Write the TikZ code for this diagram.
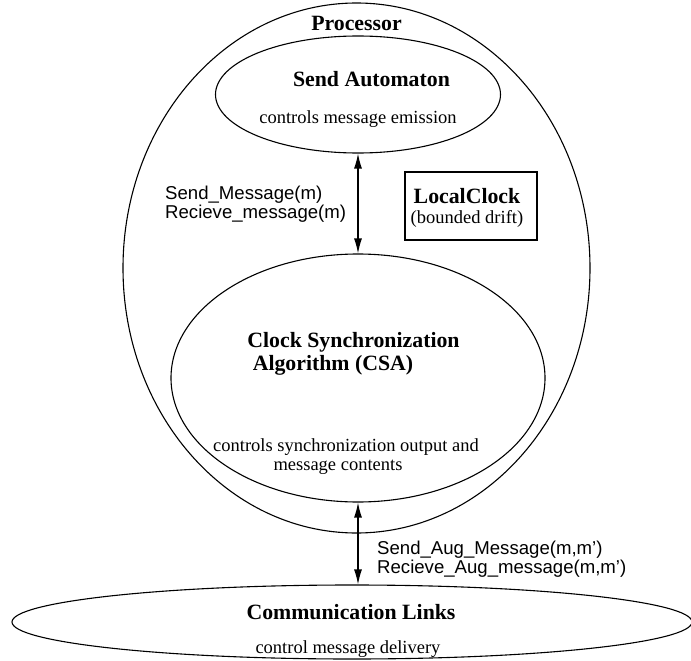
\documentclass[tikz,border=0pt]{standalone}
\usepackage{fontspec}
\setmainfont{Liberation Serif}
\newfontfamily\lsans{Liberation Sans}
\usetikzlibrary{shapes.geometric,arrows.meta}
\tikzset{
  shape line/.style={draw, line width=1.1pt},
  oval/.style={shape line, ellipse, inner sep=0pt},
  title/.style={font=\bfseries\fontsize{21.8}{24}\selectfont, anchor=base, inner sep=0pt},
  desc/.style={font=\fontsize{18.5}{21}\selectfont, anchor=base, inner sep=0pt},
  lbl/.style={font=\lsans\fontsize{18.6}{16.5}\selectfont, anchor=base west, inner sep=0pt, align=left},
  link/.style={line width=1.2pt, {Latex[length=15pt,width=8pt]}-{Latex[length=15pt,width=8pt]}}
}
\begin{document}
\begin{tikzpicture}[x=1pt,y=-1pt]
\useasboundingbox (0,0) rectangle (691,661);
% ellipses
\node[oval, minimum width=467pt, minimum height=530pt] (proc) at (356.5,268) {};
\node[oval, minimum width=285pt, minimum height=117pt] (sa) at (358,94.5) {};
\node[oval, minimum width=374pt, minimum height=248pt] (csa) at (358,378) {};
\node[oval, minimum width=680pt, minimum height=74pt] (comm) at (352,622) {};
\node[shape line, rectangle, minimum width=132pt, minimum height=68pt, inner sep=0pt] (clock) at (471,206) {};
% texts
\node[title] (tproc) at (356.5,31) {Processor};
\node[title] (tsa) at (371.5,87) {Send Automaton};
\node[desc] (dsa) at (358,124) {controls message emission};
\node[title] (tclock) at (467,203) {LocalClock};
\node[desc] (dclock) at (467,223) {(bounded drift)};
\node[title] (tcsa1) at (353.5,347) {Clock Synchronization};
\node[title] (tcsa2) at (333,370) {Algorithm (CSA)};
\node[desc] (dcsa1) at (346,451) {controls synchronization output and};
\node[desc] (dcsa2) at (338,470) {message contents};
\node[title] (tcomm) at (351,619) {Communication Links};
\node[desc] (dcomm) at (348,653) {control message delivery};
% connector labels
\node[lbl] (l1) at (165,218) {Send\_Message(m)\\Recieve\_message(m)};
\node[lbl] (l2) at (377,573) {Send\_Aug\_Message(m,m’)\\Recieve\_Aug\_message(m,m’)};
% connectors
\draw[link] (sa.south) -- (csa.north);
\draw[link] (csa.south) -- (csa.south |- comm.north);
\end{tikzpicture}
\end{document}
